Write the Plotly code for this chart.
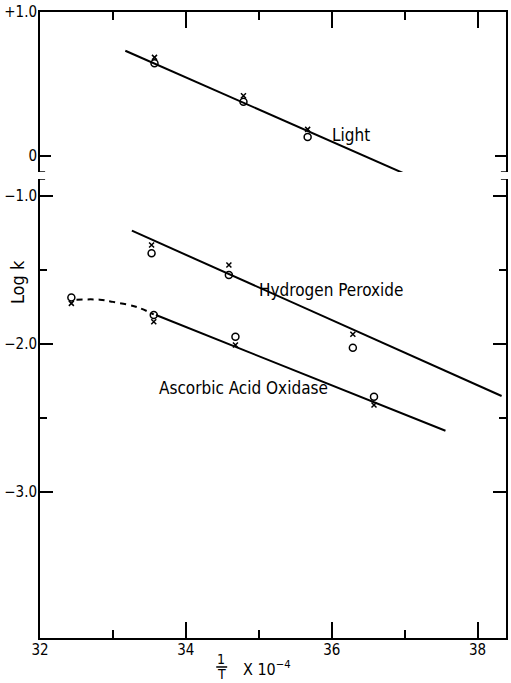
import plotly.graph_objects as go

# ---- data ----
light_x = [33.57, 34.79, 35.67]
light_circle = [0.644, 0.377, 0.132]
light_cross = [0.685, 0.419, 0.185]
light_fit_x = [33.17, 37.01]
light_fit_y = [0.731, -0.125]

h2o2_x = [33.53, 34.59, 36.29]
h2o2_circle = [-1.387, -1.534, -2.025]
h2o2_cross = [-1.331, -1.466, -1.934]
h2o2_fit_x = [33.26, 38.33]
h2o2_fit_y = [-1.234, -2.351]

aao_x = [32.43, 33.56, 34.68, 36.58]
aao_circle = [-1.685, -1.804, -1.951, -2.356]
aao_cross = [-1.725, -1.849, -2.007, -2.412]
aao_fit_x = [33.59, 37.56]
aao_fit_y = [-1.804, -2.586]
aao_dash_x = [32.50, 32.82, 33.0, 33.33, 33.56]
aao_dash_y = [-1.70, -1.70, -1.715, -1.75, -1.80]

x_major = [32, 34, 36, 38]
x_minor = [33, 35, 37]
upper_ticks = [1.0, 0]
upper_labels = ["+1.0", "0"]
lower_ticks = [-1.0, -2.0, -3.0]
lower_labels = ["\u22121.0", "\u22122.0", "\u22123.0"]
lower_minor = [-1.5, -2.5]

FONT = "Liberation Sans Narrow, DejaVu Sans Condensed, Arial Narrow, Liberation Sans, sans-serif"
BLK = "black"

fig = go.Figure()

def add_line(x, y, xa, ya, dash="solid"):
    fig.add_trace(go.Scatter(x=x, y=y, mode="lines", xaxis=xa, yaxis=ya,
                             line=dict(color=BLK, width=2, dash=dash, shape="spline"),
                             showlegend=False, hoverinfo="skip"))

def add_pts(x, yc, yx, xa, ya):
    fig.add_trace(go.Scatter(x=x, y=yc, mode="markers", xaxis=xa, yaxis=ya,
                             marker=dict(symbol="circle-open", size=7, color=BLK,
                                         line=dict(width=1.5, color=BLK)),
                             showlegend=False))
    fig.add_trace(go.Scatter(x=x, y=yx, mode="markers", xaxis=xa, yaxis=ya,
                             marker=dict(symbol="x-thin-open", size=5, color=BLK,
                                         line=dict(width=1.5, color=BLK)),
                             showlegend=False))

add_line(light_fit_x, light_fit_y, "x2", "y2")
add_pts(light_x, light_circle, light_cross, "x2", "y2")

add_line(h2o2_fit_x, h2o2_fit_y, "x", "y")
add_pts(h2o2_x, h2o2_circle, h2o2_cross, "x", "y")

add_line(aao_fit_x, aao_fit_y, "x", "y")
add_line(aao_dash_x, aao_dash_y, "x", "y", dash="6px,5px")
add_pts(aao_x, aao_circle, aao_cross, "x", "y")

XR = [32, 38.39]
axis_common = dict(showgrid=False, zeroline=False, showline=True, linecolor=BLK,
                   linewidth=2, ticks="inside", tickcolor=BLK, tickwidth=1.5)

fig.update_layout(
    width=511, height=683,
    margin=dict(l=40, r=3, t=12, b=45),
    paper_bgcolor="white", plot_bgcolor="white",
    font=dict(family=FONT, color=BLK, size=15),
    xaxis=dict(range=XR, domain=[0, 1], anchor="y", tickvals=x_major,
               ticktext=[str(v) for v in x_major], ticklen=16, ticklabelstandoff=-3,
               minor=dict(tickvals=x_minor, ticklen=8, ticks="inside", tickcolor=BLK, tickwidth=1.5),
               tickfont=dict(size=15), **axis_common),
    xaxis2=dict(range=XR, domain=[0, 1], anchor="y2", side="top", matches="x",
                tickvals=x_major, showticklabels=False, ticklen=16,
                minor=dict(tickvals=x_minor, ticklen=8, ticks="inside", tickcolor=BLK, tickwidth=1.5),
                **axis_common),
    yaxis=dict(range=[-3.986, -0.885], domain=[0, 0.7332], anchor="x",
               tickvals=lower_ticks, ticktext=lower_labels, ticklen=13, mirror="ticks",
               ticklabelstandoff=-2,
               minor=dict(tickvals=lower_minor, ticklen=7, ticks="inside", tickcolor=BLK, tickwidth=1.5),
               tickfont=dict(size=15), **axis_common),
    yaxis2=dict(range=[-0.111, 1.0], domain=[0.7444, 1], anchor="x2",
                tickvals=upper_ticks, ticktext=upper_labels, ticklen=11, mirror="ticks",
                ticklabelstandoff=-2,
                tickfont=dict(size=15), **axis_common),
)

# axis break marks
for xa, ya, yv in [("x2", "y2", -0.111), ("x", "y", -0.885)]:
    for xc in XR:
        fig.add_shape(type="line", xref=xa, yref=ya, x0=xc - 0.07, x1=xc + 0.07,
                      y0=yv, y1=yv, line=dict(color=BLK, width=1.5))

# curve labels
fig.add_annotation(x=36.26, y=0.146, xref="x2", yref="y2", text="Light",
                   showarrow=False, font=dict(size=17))
fig.add_annotation(x=35.99, y=-1.635, xref="x", yref="y", text="Hydrogen Peroxide",
                   showarrow=False, font=dict(size=17))
fig.add_annotation(x=34.79, y=-2.297, xref="x", yref="y", text="Ascorbic Acid Oxidase",
                   showarrow=False, font=dict(size=17))

# y title
fig.add_annotation(x=-0.047, y=0.5687, xref="paper", yref="paper", text="Log k",
                   xanchor="center", yanchor="middle",
                   textangle=-90, showarrow=False, font=dict(size=18))

# x title: 1/T x 10^-4
fig.add_annotation(x=0.389, y=-0.0335, xref="paper", yref="paper", text="1",
                   xanchor="center", yanchor="middle", showarrow=False, font=dict(size=14))
fig.add_annotation(x=0.389, y=-0.0575, xref="paper", yref="paper", text="T",
                   xanchor="center", yanchor="middle", showarrow=False, font=dict(size=14))
fig.add_shape(type="line", xref="paper", yref="paper", x0=0.3782, x1=0.4017,
              y0=-0.0463, y1=-0.0463, line=dict(color=BLK, width=1.5))
fig.add_annotation(x=0.4316, y=-0.048, xref="paper", yref="paper", xanchor="left",
                   yanchor="middle",
                   text="X 10<sup>\u22124</sup>", showarrow=False, font=dict(size=16))

fig.write_html("out.html")
